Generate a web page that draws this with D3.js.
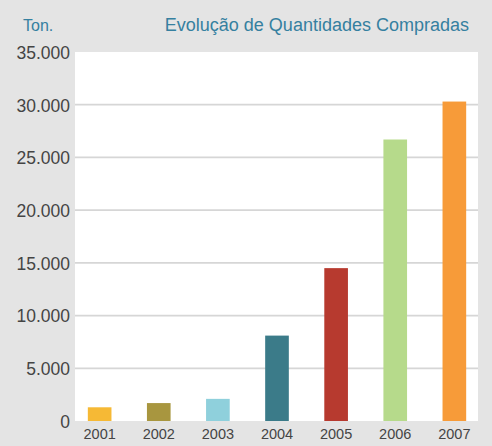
<!DOCTYPE html>
<html>
<head>
<meta charset="utf-8">
<script src="https://cdn.jsdelivr.net/npm/d3@7"></script>
<style>
  body { margin: 0; background: #e4e4e4; }
  svg { display: block; }
</style>
</head>
<body>
<div id="chart-container"><svg width="492" height="446"></svg></div>
<script>
const years = ['2001', '2002', '2003', '2004', '2005', '2006', '2007'];
const quantities = [1300, 1700, 2100, 8100, 14500, 26700, 30300];
const barColors = ['#f6b935', '#a8963f', '#8fd0dc', '#3b7b89', '#b73a2f', '#b6da8b', '#f79b39'];
const yTicks = [0, 5000, 10000, 15000, 20000, 25000, 30000, 35000];
const unitLabel = 'Ton.';
const titleText = 'Evolução de Quantidades Compradas';

const plot = {
  left: 75,
  right: 478,
  top: 52,
  bottom: 421,
};

const svg = d3.select('#chart-container>svg');

// pt-BR style thousands separator: 35.000
const ptFormat = d3.formatLocale({
  decimal: ',',
  thousands: '.',
  grouping: [3],
  currency: ['', ''],
}).format(',');

const xScale = d3.scaleBand()
  .domain(years)
  .range([plot.left + 1, plot.right])
  .paddingInner(0.6)
  .paddingOuter(0.2);

const yScale = d3.scaleLinear()
  .domain([0, 35000])
  .range([plot.bottom, plot.top]);

svg.append('rect')
  .attr('width', 492)
  .attr('height', 446)
  .attr('fill', '#e4e4e4');

// white plotting area
svg.append('rect')
  .attr('x', plot.left)
  .attr('y', plot.top)
  .attr('width', plot.right - plot.left)
  .attr('height', plot.bottom - plot.top)
  .attr('fill', '#ffffff');

// horizontal grid
svg.append('g')
  .selectAll('line')
  .data(yTicks.filter(d => d > 0 && d < 35000))
  .enter()
  .append('line')
  .attr('x1', plot.left)
  .attr('x2', plot.right)
  .attr('y1', d => yScale(d))
  .attr('y2', d => yScale(d))
  .style('stroke', '#d6d6d6')
  .style('stroke-width', 1.8);

svg.append('g')
  .selectAll('rect')
  .data(quantities)
  .enter()
  .append('rect')
  .attr('x', (d, i) => xScale(years[i]))
  .attr('y', d => yScale(d))
  .attr('width', xScale.bandwidth())
  .attr('height', d => yScale(0) - yScale(d))
  .attr('fill', (d, i) => barColors[i]);

const yAxis = d3.axisLeft(yScale)
  .tickValues(yTicks)
  .tickFormat(d => ptFormat(d))
  .tickSize(0)
  .tickPadding(4);

const gY = svg.append('g')
  .attr('transform', `translate(${plot.left - 1},0)`)
  .call(yAxis);
gY.select('.domain').remove();
gY.selectAll('text')
  .attr('dy', '0.36em')
  .style('font-family', '"Liberation Sans", Arial, sans-serif')
  .style('font-size', '17.5px')
  .style('fill', '#444444');

const xAxis = d3.axisBottom(xScale)
  .tickSize(0)
  .tickPadding(8);

const gX = svg.append('g')
  .attr('transform', `translate(0,${plot.bottom})`)
  .call(xAxis);
gX.select('.domain').remove();
gX.selectAll('text')
  .attr('dy', '0.71em')
  .style('font-family', '"Liberation Sans", Arial, sans-serif')
  .style('font-size', '14.5px')
  .style('fill', '#444444');

svg.append('text')
  .attr('x', 23)
  .attr('y', 31)
  .style('font-family', '"Liberation Sans", Arial, sans-serif')
  .style('font-size', '16px')
  .style('fill', '#3580a0')
  .text(unitLabel);

svg.append('text')
  .attr('x', 469)
  .attr('y', 31)
  .attr('text-anchor', 'end')
  .style('font-family', '"Liberation Sans", Arial, sans-serif')
  .style('font-size', '18px')
  .style('fill', '#3580a0')
  .text(titleText);
</script>
</body>
</html>
